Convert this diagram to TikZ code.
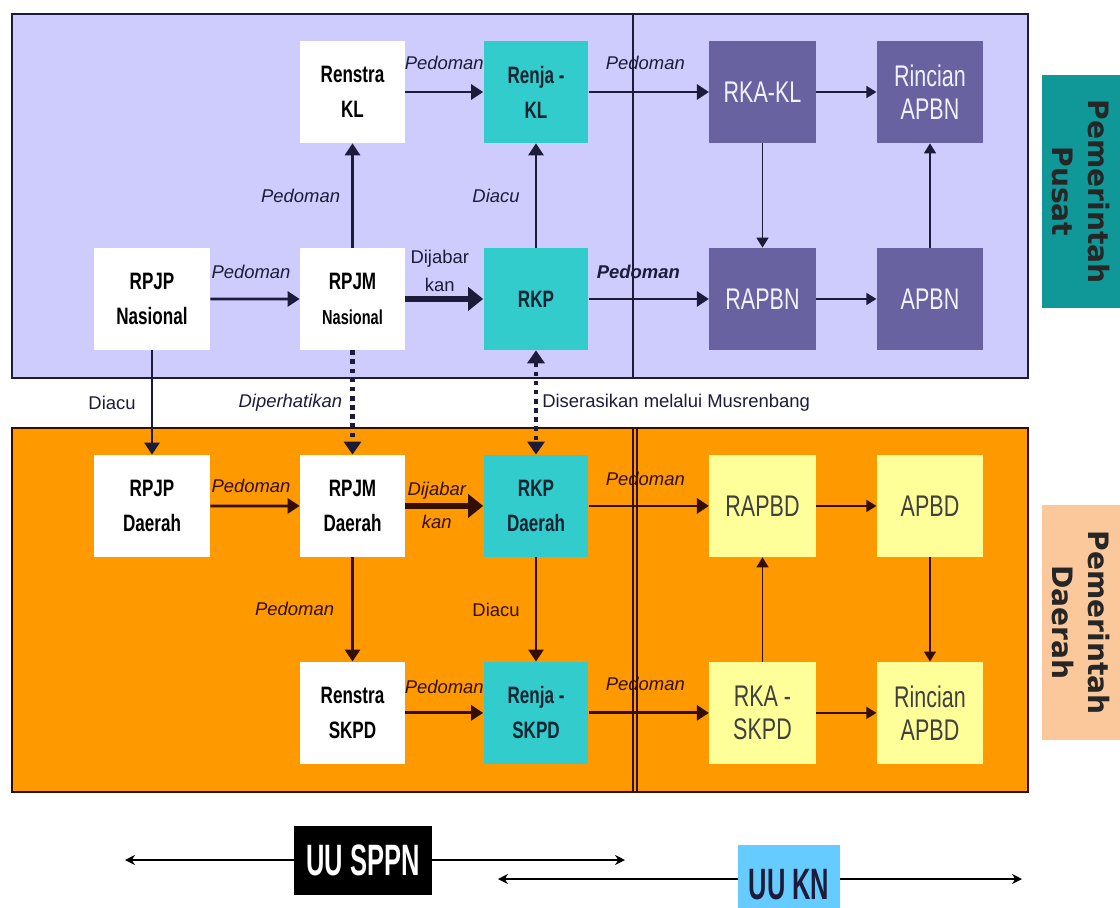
\documentclass[tikz,border=0pt]{standalone}
\usepackage{fontspec}
\setmainfont{Liberation Sans}
\newfontfamily\narrowfont[FakeStretch=0.72]{Liberation Sans}
\newfontfamily\lawfont[FakeStretch=0.58]{Liberation Sans}
\newfontfamily\sidefont{DejaVu Sans}
\usepackage{xcolor}
\usepackage{tikz}
\usetikzlibrary{positioning, arrows.meta}

\definecolor{lavender}{RGB}{206,204,252}
\definecolor{plumbox}{RGB}{104,99,160}
\definecolor{cyanbox}{RGB}{51,204,204}
\definecolor{orangebg}{RGB}{255,153,0}
\definecolor{paleyellow}{RGB}{255,255,153}
\definecolor{tealtag}{RGB}{16,152,152}
\definecolor{peachtag}{RGB}{250,200,155}
\definecolor{skytag}{RGB}{102,204,255}
\definecolor{navyline}{RGB}{28,28,58}
\definecolor{brownline}{RGB}{50,15,0}

\tikzset{
  box/.style={rectangle, inner sep=0pt, minimum width=2.1cm, minimum height=2.04cm, align=center},
  plan/.style={box, fill=white, text=black, font=\narrowfont\bfseries\fontsize{13.5}{20}\selectfont},
  work/.style={plan, fill=cyanbox, text={rgb,255:red,20;green,36;blue,50}},
  budget/.style={box, minimum width=2.13cm, fill=plumbox, text={rgb,255:red,240;green,240;blue,255},
    font=\narrowfont\fontsize{17}{19}\selectfont},
  budgetd/.style={budget, fill=paleyellow, text=black!75},
  tag/.style={rectangle, rotate=-90, inner sep=0pt, minimum height=1.56cm, align=center,
    text=black!85, font=\sidefont\bfseries\fontsize{16}{21}\selectfont},
  lawbox/.style={rectangle, inner sep=0pt, font=\lawfont\bfseries\fontsize{25}{28}\selectfont},
  flow/.style={->, line width=1.6pt, >={Triangle[length=0.24cm,width=0.3cm]}},
  bigflow/.style={->, line width=3.4pt, >={Triangle[length=0.3cm,width=0.46cm]}},
  thinflow/.style={->, line width=0.8pt, >={Triangle[length=0.2cm,width=0.24cm]}},
  dotflow/.style={line width=2.6pt, dash pattern=on 2.6pt off 2.6pt, >={Triangle[length=0.26cm,width=0.34cm]}},
  law/.style={->, line width=0.9pt, black, >={Stealth[length=0.2cm,width=0.2cm]}},
  lbl/.style={inner sep=0pt, font=\fontsize{10.5}{12}\selectfont\itshape},
  rlbl/.style={inner sep=0pt, font=\fontsize{10.5}{12}\selectfont},
  blbl/.style={inner sep=0pt, font=\fontsize{10.5}{12}\selectfont\bfseries\itshape}
}

\begin{document}
\begin{tikzpicture}[x=0.02cm,y=-0.02cm,node distance=4.14cm]
    \useasboundingbox (0,0) rectangle (1120,907);

    % frames
    \draw[navyline, line width=0.7pt, fill=lavender] (12,14) rectangle (1028,378);
    \draw[navyline, line width=0.7pt] (633,14) -- (633,378);
    \draw[brownline, line width=0.7pt, fill=orangebg] (12,428) rectangle (1028,792);
    \draw[brownline, line width=0.7pt] (633,428) -- (633,792) (637,428) -- (637,792);

    % pusat
    \node[plan] (renstrakl) at (352.5,92) {Renstra\\KL};
    \node[work] (renjakl) at (536,92) {Renja -\\KL};
    \node[budget] (rkakl) at (762.5,92) {RKA-KL};
    \node[budget] (rincianapbn) at (930,92) {Rincian\\APBN};
    \node[plan, minimum width=2.32cm] (rpjpn) at (152,299) {RPJP\\Nasional};
    \node[plan] (rpjmn) [below of=renstrakl] {RPJM\\{\fontsize{11.5}{20}\selectfont Nasional}};
    \node[work] (rkp) [below of=renjakl] {RKP};
    \node[budget] (rapbn) [below of=rkakl] {RAPBN};
    \node[budget] (apbn) [below of=rincianapbn] {APBN};

    % daerah
    \node[plan, minimum width=2.32cm] (rpjpd) [below of=rpjpn] {RPJP\\Daerah};
    \node[plan] (rpjmd) [below of=rpjmn] {RPJM\\Daerah};
    \node[work] (rkpd) [below of=rkp] {RKP\\Daerah};
    \node[plan] (renstraskpd) [below of=rpjmd] {Renstra\\SKPD};
    \node[work] (renjaskpd) [below of=rkpd] {Renja -\\SKPD};
    \node[budgetd] (rapbd) [below of=rapbn] {RAPBD};
    \node[budgetd] (apbd) [below of=apbn] {APBD};
    \node[budgetd] (rkaskpd) [below of=rapbd] {RKA -\\SKPD};
    \node[budgetd] (rincianapbd) [below of=apbd] {Rincian\\APBD};

    \node[tag, fill=tealtag, minimum width=4.66cm] (pusat) at (1081,191.5) {Pemerintah\\Pusat};
    \node[tag, fill=peachtag, minimum width=4.7cm] (daerah) at (1081,622.5) {Pemerintah\\Daerah};

    \path[flow, navyline]
          (renstrakl) edge node[lbl, yshift=0.58cm] {Pedoman} (renjakl)
          (renjakl) edge node[lbl, xshift=-0.07cm, yshift=0.58cm] {Pedoman} (rkakl)
          (rpjmn) edge node[lbl, left=0.22cm] {Pedoman} (renstrakl)
          (rkp) edge node[lbl, left=0.3cm] {Diacu} (renjakl)
          (rpjpn) edge node[lbl, xshift=-0.08cm, yshift=0.54cm] {Pedoman} (rpjmn)
          (rkp) edge node[blbl, xshift=-0.21cm, yshift=0.54cm] {Pedoman} (rapbn)
          (rpjpn) edge node[rlbl, left=0.3cm] {Diacu} (rpjpd);
    \path[bigflow, navyline]
          (rpjmn) edge node[rlbl, align=center, font=\fontsize{10.5}{16}\selectfont, xshift=-0.09cm, yshift=0.56cm] {Dijabar\\kan} (rkp);
    \path[thinflow, navyline]
          (rkakl) edge (rincianapbn)
          (rkakl) edge (rapbn)
          (rapbn) edge (apbn)
          (apbn) edge (rincianapbn);

    \path[dotflow, navyline]
          (rpjmn) edge[->] node[lbl, left=0.16cm] {Diperhatikan} (rpjmd)
          (rkp) edge[<->] node[rlbl, right=0.08cm] {Diserasikan melalui Musrenbang} (rkpd);

    \path[flow, brownline]
          (rpjpd) edge node[lbl, xshift=-0.08cm, yshift=0.4cm] {Pedoman} (rpjmd)
          (rpjmd) edge node[lbl, left=0.34cm] {Pedoman} (renstraskpd)
          (rkpd) edge node[rlbl, left=0.3cm] {Diacu} (renjaskpd)
          (renstraskpd) edge node[lbl, yshift=0.52cm] {Pedoman} (renjaskpd)
          (rkpd) edge node[lbl, xshift=-0.07cm, yshift=0.54cm] {Pedoman} (rapbd)
          (renjaskpd) edge node[lbl, xshift=-0.07cm, yshift=0.58cm] {Pedoman} (rkaskpd);
    \path[bigflow, brownline]
          (rpjmd) edge node[lbl, xshift=-0.15cm, yshift=0.3cm] {Dijabar}
                       node[lbl, xshift=-0.15cm, yshift=-0.32cm] {kan} (rkpd);
    \path[thinflow, brownline]
          (rapbd) edge (apbd)
          (rkaskpd) edge (rapbd)
          (apbd) edge (rincianapbd)
          (rkaskpd) edge (rincianapbd);

    % undang-undang
    \node[lawbox, fill=black, text=white, minimum width=2.76cm, minimum height=1.38cm] (sppn) at (363,860) {UU SPPN};
    \node[lawbox, fill=skytag, text=navyline, minimum width=2.04cm, minimum height=1.6cm] (kn) at (789,885) {UU KN};
    \coordinate (sppnL) at (125,860);
    \coordinate (sppnR) at (625,860);
    \coordinate (knL) at (498,879);
    \coordinate (knR) at (1022,879);
    \draw[law] (sppn.west |- sppnL) -- (sppnL);
    \draw[law] (sppn.east |- sppnR) -- (sppnR);
    \draw[law] (kn.west |- knL) -- (knL);
    \draw[law] (kn.east |- knR) -- (knR);
\end{tikzpicture}
\end{document}
